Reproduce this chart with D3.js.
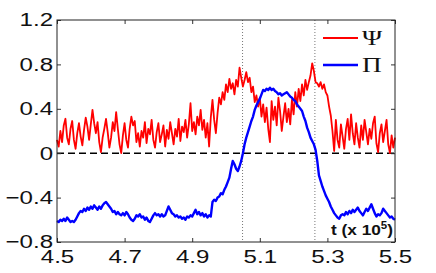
<!DOCTYPE html>
<html>
<head>
<meta charset="utf-8">
<script src="https://cdn.jsdelivr.net/npm/d3@7"></script>
<style>
  body { margin: 0; background: #fff; }
  svg { display: block; }
</style>
</head>
<body>
<svg id="chart" width="436" height="273"></svg>
<script>
// data: sampled every 0.005 (x 10^5) from 4.5 to 5.5
var tStart = 4.5, tStep = 0.005;

var psi = [
  0.12, 0.06, 0.20, 0.10, 0.25, 0.31, 0.14, 0.08, 0.22, 0.29,
  0.12, 0.04, 0.18, 0.27, 0.15, 0.07, 0.21, 0.32, 0.24, 0.12,
  0.26, 0.39, 0.27, 0.18, 0.28, 0.10, 0.01, 0.14, 0.22, 0.31,
  0.19, 0.05, 0.14, 0.28, 0.20, 0.37, 0.22, 0.08, 0.00, 0.16,
  0.27, 0.12, 0.05, 0.22, 0.33, 0.25, 0.29, 0.10, 0.18, 0.06,
  0.20, 0.14, 0.28, 0.09, 0.22, 0.17, 0.30, 0.12, 0.05, 0.19,
  0.27, 0.10, 0.17, 0.25, 0.06, 0.21, 0.13, 0.28, 0.18, 0.08,
  0.22, 0.15, 0.31, 0.11, 0.24, 0.19, 0.30, 0.14, 0.26, 0.45,
  0.20, 0.28, 0.17, 0.33, 0.25, 0.39, 0.21, 0.30, 0.14, 0.27,
  0.06, 0.32, 0.48, 0.30, 0.18, 0.36, 0.50, 0.44, 0.55, 0.48,
  0.62, 0.55, 0.67, 0.58, 0.63, 0.53, 0.66, 0.60, 0.77, 0.68,
  0.60, 0.66, 0.73, 0.64, 0.68, 0.55, 0.60, 0.46, 0.52, 0.42,
  0.50, 0.33, 0.44, 0.28, 0.41, 0.22, 0.10, 0.47, 0.30, 0.42,
  0.25, 0.50, 0.38, 0.20, 0.33, 0.45, 0.28, 0.40, 0.26, 0.48,
  0.35, 0.55, 0.42, 0.58, 0.47, 0.62, 0.52, 0.66, 0.57, 0.64,
  0.70, 0.81, 0.74, 0.64, 0.63, 0.60, 0.64, 0.58, 0.62, 0.55,
  0.52, 0.42, 0.34, 0.20, 0.02, 0.30, 0.12, 0.05, 0.26, 0.15,
  0.04, 0.22, 0.31, 0.12, 0.35, 0.18, 0.08, 0.27, 0.14, 0.05,
  0.25, 0.12, 0.30, 0.19, 0.08, 0.22, 0.13, 0.27, 0.33, 0.09,
  0.01, 0.18, 0.26, 0.10, 0.20, 0.30, 0.08, 0.00, 0.16, 0.05,
  0.14
];

var pi = [
  -0.61, -0.62, -0.60, -0.61, -0.59, -0.61, -0.58, -0.60, -0.62, -0.61,
  -0.62, -0.60, -0.57, -0.54, -0.52, -0.53, -0.50, -0.52, -0.49, -0.51,
  -0.48, -0.50, -0.47, -0.49, -0.51, -0.48, -0.50, -0.47, -0.45, -0.44,
  -0.46, -0.48, -0.50, -0.53, -0.52, -0.55, -0.53, -0.55, -0.56, -0.54,
  -0.56, -0.53, -0.55, -0.58, -0.60, -0.61, -0.59, -0.56, -0.57, -0.55,
  -0.58, -0.57, -0.60, -0.58, -0.61, -0.62, -0.59, -0.56, -0.54, -0.56,
  -0.55, -0.57, -0.55, -0.57, -0.56, -0.52, -0.48, -0.51, -0.54, -0.55,
  -0.57, -0.56, -0.58, -0.57, -0.59, -0.58, -0.60, -0.57, -0.58, -0.56,
  -0.57, -0.54, -0.51, -0.55, -0.53, -0.56, -0.54, -0.57, -0.55, -0.58,
  -0.56, -0.57, -0.44, -0.42, -0.43, -0.40, -0.39, -0.36, -0.37, -0.33,
  -0.30, -0.26, -0.22, -0.14, -0.07, -0.10, -0.14, -0.16, -0.12, -0.07,
   0.00,  0.08,  0.14,  0.19,  0.24,  0.29,  0.33,  0.39,  0.43,  0.46,
   0.49,  0.53,  0.57,  0.56,  0.58,  0.57,  0.59,  0.57,  0.58,  0.56,
   0.55,  0.53,  0.54,  0.52,  0.53,  0.54,  0.55,  0.53,  0.51,  0.50,
   0.48,  0.47,  0.44,  0.42,  0.40,  0.38,  0.33,  0.29,  0.23,  0.19,
   0.14,  0.11,  0.08,  0.03, -0.07, -0.20, -0.25, -0.30, -0.34, -0.38,
  -0.41, -0.44, -0.48, -0.51, -0.54, -0.56, -0.58, -0.59, -0.56, -0.55,
  -0.56, -0.53, -0.55, -0.52, -0.54, -0.51, -0.53, -0.51, -0.49, -0.52,
  -0.54, -0.56, -0.53, -0.50, -0.52, -0.49, -0.46, -0.50, -0.54, -0.57,
  -0.55, -0.56, -0.54, -0.50, -0.52, -0.54, -0.56, -0.58, -0.57, -0.59,
  -0.60
];

var xTicks = [4.5, 4.7, 4.9, 5.1, 5.3, 5.5];
var yTicks = [-0.8, -0.4, 0, 0.4, 0.8, 1.2];
var markers = [5.049, 5.263];   // dotted vertical lines
var seriesNames = ['\u03A8', '\u03A0'];
var seriesColors = ['#ff0000', '#0000ff'];

// layout
var margin = {top: 20, right: 41, bottom: 31, left: 57},
    width = 436 - margin.left - margin.right,
    height = 273 - margin.top - margin.bottom;
var stretch = 1.3;   // labels in the picture look wide

var x = d3.scaleLinear().domain([4.5, 5.5]).range([0, width]);
var y = d3.scaleLinear().domain([-0.8, 1.2]).range([height, 0]);

var svg = d3.select('#chart');
var g = svg.append('g')
  .attr('transform', 'translate(' + margin.left + ',' + margin.top + ')');

function tOf(i) { return tStart + i * tStep; }

// zero line and markers
g.append('line')
  .attr('x1', 0).attr('x2', width)
  .attr('y1', y(0)).attr('y2', y(0))
  .attr('stroke', '#000').attr('stroke-width', 1.6)
  .attr('stroke-dasharray', '7,4');

g.selectAll('.marker')
  .data(markers)
  .enter().append('line')
  .attr('class', 'marker')
  .attr('x1', function(d) { return x(d); })
  .attr('x2', function(d) { return x(d); })
  .attr('y1', 0).attr('y2', height)
  .attr('stroke', '#777').attr('stroke-width', 1)
  .attr('stroke-dasharray', '1,2');

// series
var line = d3.line()
  .x(function(d, i) { return x(tOf(i)); })
  .y(function(d) { return y(d); });

g.append('path').datum(psi)
  .attr('fill', 'none').attr('stroke', seriesColors[0])
  .attr('stroke-width', 1.8).attr('stroke-linejoin', 'round')
  .attr('d', line);

g.append('path').datum(pi)
  .attr('fill', 'none').attr('stroke', seriesColors[1])
  .attr('stroke-width', 2.4).attr('stroke-linejoin', 'round')
  .attr('d', line);

// axes (inward ticks, box)
function styleAxis(sel) {
  sel.select('.domain').remove();
  sel.selectAll('.tick line').attr('stroke', '#333');
}

var xBottom = g.append('g')
  .attr('transform', 'translate(0,' + height + ')')
  .call(d3.axisBottom(x).tickValues(xTicks).tickSize(-4).tickFormat(d3.format('.1f')));
styleAxis(xBottom);
xBottom.selectAll('text')
  .attr('y', 21).attr('dy', 0).attr('x', 0)
  .attr('transform', 'scale(' + stretch + ',1)');

var xTop = g.append('g')
  .call(d3.axisTop(x).tickValues(xTicks).tickSize(-4).tickFormat(''));
styleAxis(xTop);

var yLeft = g.append('g')
  .call(d3.axisLeft(y).tickValues(yTicks).tickSize(-4)
    .tickFormat(function(d) { return d === 0 ? '0' : d3.format('.1f')(d).replace('-', '\u2212'); }));
styleAxis(yLeft);
yLeft.selectAll('text')
  .attr('x', -4 / stretch)
  .attr('transform', 'scale(' + stretch + ',1)');

var yRight = g.append('g')
  .attr('transform', 'translate(' + width + ',0)')
  .call(d3.axisRight(y).tickValues(yTicks).tickSize(-4).tickFormat(''));
styleAxis(yRight);

g.selectAll('.tick text')
  .attr('fill', '#111')
  .style('font-family', 'Liberation Sans, Arial, sans-serif')
  .style('font-size', '18.5px');

g.append('rect')
  .attr('width', width).attr('height', height)
  .attr('fill', 'none').attr('stroke', '#222').attr('stroke-width', 1);

// legend
var legend = g.selectAll('.legend')
  .data(seriesNames)
  .enter().append('g')
  .attr('class', 'legend')
  .attr('transform', function(d, i) { return 'translate(266,' + (18 + i * 27) + ')'; });

legend.append('line')
  .attr('x1', 0).attr('x2', 35)
  .attr('stroke', function(d, i) { return seriesColors[i]; })
  .attr('stroke-width', function(d, i) { return i ? 2.4 : 1.8; });

legend.append('text')
  .attr('transform', 'translate(39,7) scale(' + stretch + ',1)')
  .style('font-family', 'Liberation Serif, Times New Roman, serif')
  .style('font-size', '21px')
  .attr('fill', '#111')
  .text(function(d) { return d; });

// axis unit label
var unit = g.append('text')
  .attr('transform', 'translate(' + (width - 2) + ',' + (height - 7) + ') scale(1.15,1)')
  .attr('text-anchor', 'end')
  .style('font-family', 'Liberation Sans, Arial, sans-serif')
  .style('font-size', '15px')
  .style('font-weight', 'bold')
  .attr('fill', '#111');
unit.append('tspan').text('t (x 10');
unit.append('tspan').attr('dy', -6).style('font-size', '10px').text('5');
unit.append('tspan').attr('dy', 6).text(')');
</script>
</body>
</html>
